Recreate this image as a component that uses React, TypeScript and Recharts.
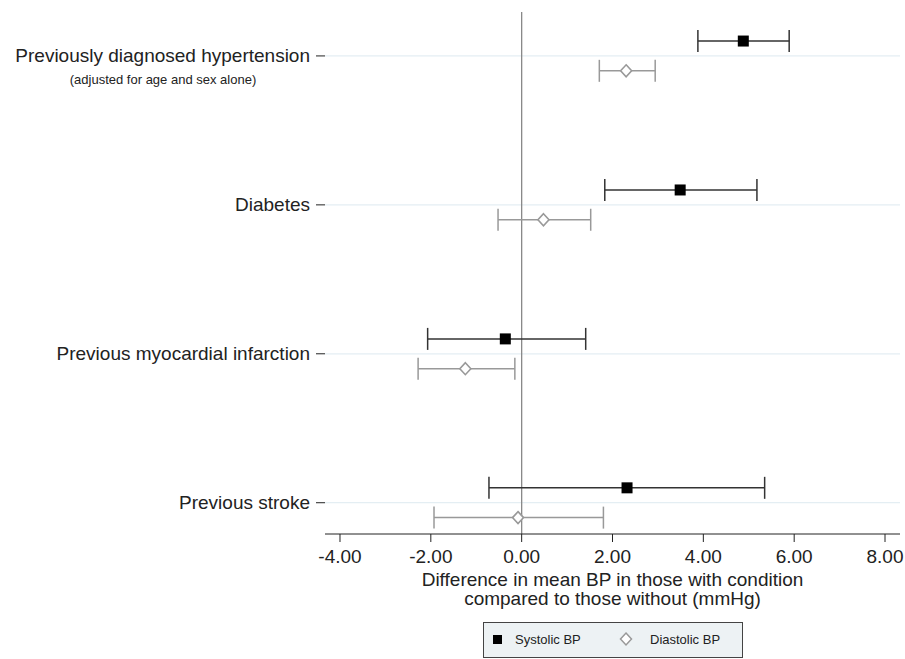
import React from 'react';
import {
  ComposedChart,
  Scatter,
  XAxis,
  YAxis,
  ReferenceLine,
  ErrorBar,
  Legend,
} from 'recharts';

const categories = [
  'Previously diagnosed hypertension',
  'Diabetes',
  'Previous myocardial infarction',
  'Previous stroke',
];
const categoryNotes = ['(adjusted for age and sex alone)', '', '', ''];

const systolicMean = [4.88, 3.49, -0.36, 2.32];
const systolicLow = [3.88, 1.83, -2.07, -0.72];
const systolicHigh = [5.89, 5.18, 1.41, 5.35];

const diastolicMean = [2.3, 0.48, -1.24, -0.08];
const diastolicLow = [1.71, -0.52, -2.28, -1.93];
const diastolicHigh = [2.94, 1.52, -0.15, 1.8];

const xTicks = [-4, -2, 0, 2, 4, 6, 8];
const seriesNames = ['Systolic BP', 'Diastolic BP'];

const FONT = '"Liberation Sans", Arial, Helvetica, sans-serif';
const ROW_SHIFT = 0.1;
const rowPos = (i: number) => categories.length - i;
const rowTicks = categories.map((_, i) => rowPos(i));

const systolicData = categories.map((c, i) => ({
  name: c,
  x: systolicMean[i],
  y: rowPos(i) + ROW_SHIFT,
  err: [systolicMean[i] - systolicLow[i], systolicHigh[i] - systolicMean[i]],
}));

const diastolicData = categories.map((c, i) => ({
  name: c,
  x: diastolicMean[i],
  y: rowPos(i) - ROW_SHIFT,
  err: [diastolicMean[i] - diastolicLow[i], diastolicHigh[i] - diastolicMean[i]],
}));

const SquareShape = (props: any) => {
  const { cx, cy } = props;
  if (cx == null || cy == null) return null;
  return <rect x={cx - 5.5} y={cy - 5.5} width={11} height={11} fill="#000" />;
};

const DiamondShape = (props: any) => {
  const { cx, cy } = props;
  if (cx == null || cy == null) return null;
  return (
    <polygon
      points={`${cx},${cy - 6} ${cx + 5.5},${cy} ${cx},${cy + 6} ${cx - 5.5},${cy}`}
      fill="#fff"
      stroke="#999"
      strokeWidth={1.6}
    />
  );
};

const YTick = (props: any) => {
  const { x, y, payload } = props;
  const idx = categories.length - Math.round(payload.value);
  const label = categories[idx];
  const note = categoryNotes[idx];
  return (
    <g>
      <text
        x={x}
        y={y}
        textAnchor="end"
        dominantBaseline="central"
        fontSize={19}
        fill="#222"
        fontFamily={FONT}
      >
        {label}
      </text>
      {note ? (
        <text
          x={163}
          y={y + 24}
          textAnchor="middle"
          dominantBaseline="central"
          fontSize={13}
          fill="#222"
          fontFamily={FONT}
        >
          {note}
        </text>
      ) : null}
    </g>
  );
};

const XTitle = (props: any) => {
  const vb = props.viewBox || {};
  const cx = vb.x + vb.width / 2;
  const top = vb.y;
  return (
    <text textAnchor="middle" fontSize={19} fill="#222" fontFamily={FONT}>
      <tspan x={cx} y={top + 45} dominantBaseline="central">
        Difference in mean BP in those with condition
      </tspan>
      <tspan x={cx} y={top + 64} dominantBaseline="central">
        compared to those without (mmHg)
      </tspan>
    </text>
  );
};

const LegendBox = () => (
  <div
    style={{
      position: 'relative',
      width: 260,
      height: 36,
      boxSizing: 'border-box',
      border: '1px solid #444',
      background: '#edf2f4',
      fontFamily: FONT,
      fontSize: 13,
      color: '#222',
    }}
  >
    <div
      style={{
        position: 'absolute',
        left: 9,
        top: 12,
        width: 9,
        height: 9,
        background: '#000',
      }}
    />
    <span style={{ position: 'absolute', left: 31, top: 0, lineHeight: '34px' }}>
      {seriesNames[0]}
    </span>
    <svg
      style={{ position: 'absolute', left: 135, top: 8 }}
      width={14}
      height={16}
    >
      <polygon points="7,2 12.5,8 7,14 1.5,8" fill="#fff" stroke="#999" strokeWidth={1.5} />
    </svg>
    <span style={{ position: 'absolute', left: 166, top: 0, lineHeight: '34px' }}>
      {seriesNames[1]}
    </span>
  </div>
);

export default function App() {
  return (
    <div style={{ position: 'absolute', left: 0, top: 0, width: 905, height: 659, background: '#fff', fontFamily: FONT }}>
      <ComposedChart
        width={905}
        height={659}
        margin={{ top: 12, right: 5, bottom: 0, left: 0 }}
      >
        <XAxis
          type="number"
          dataKey="x"
          domain={[-4.33, 8.33]}
          allowDataOverflow
          ticks={xTicks}
          tickFormatter={(v: number) => v.toFixed(2)}
          height={125}
          tickSize={8}
          tickMargin={8}
          stroke="#222"
          tick={{ fontSize: 19, fill: '#222', fontFamily: FONT }}
          label={{ content: <XTitle /> } as any}
        />
        <YAxis
          type="number"
          dataKey="y"
          domain={[0.79, 4.295]}
          allowDataOverflow
          ticks={rowTicks}
          width={325}
          axisLine={false}
          tickSize={9}
          tickMargin={6}
          tickLine={{ stroke: '#222' }}
          tick={<YTick />}
        />
        {rowTicks.map((t) => (
          <ReferenceLine key={t} y={t} stroke="#e4eef3" strokeWidth={1.2} />
        ))}
        <ReferenceLine x={0} stroke="#888" strokeWidth={1.3} />
        <Scatter
          name={seriesNames[0]}
          data={systolicData}
          shape={<SquareShape />}
          isAnimationActive={false}
        >
          <ErrorBar dataKey="err" direction="x" width={11} stroke="#333" strokeWidth={1.5} />
        </Scatter>
        <Scatter
          name={seriesNames[1]}
          data={diastolicData}
          shape={<DiamondShape />}
          isAnimationActive={false}
        >
          <ErrorBar dataKey="err" direction="x" width={11} stroke="#999" strokeWidth={1.5} />
        </Scatter>
        <Legend
          layout="horizontal"
          verticalAlign="middle"
          align="center"
          content={<LegendBox />}
          wrapperStyle={{ left: 483, top: 622, width: 260, height: 36 }}
        />
      </ComposedChart>
    </div>
  );
}
